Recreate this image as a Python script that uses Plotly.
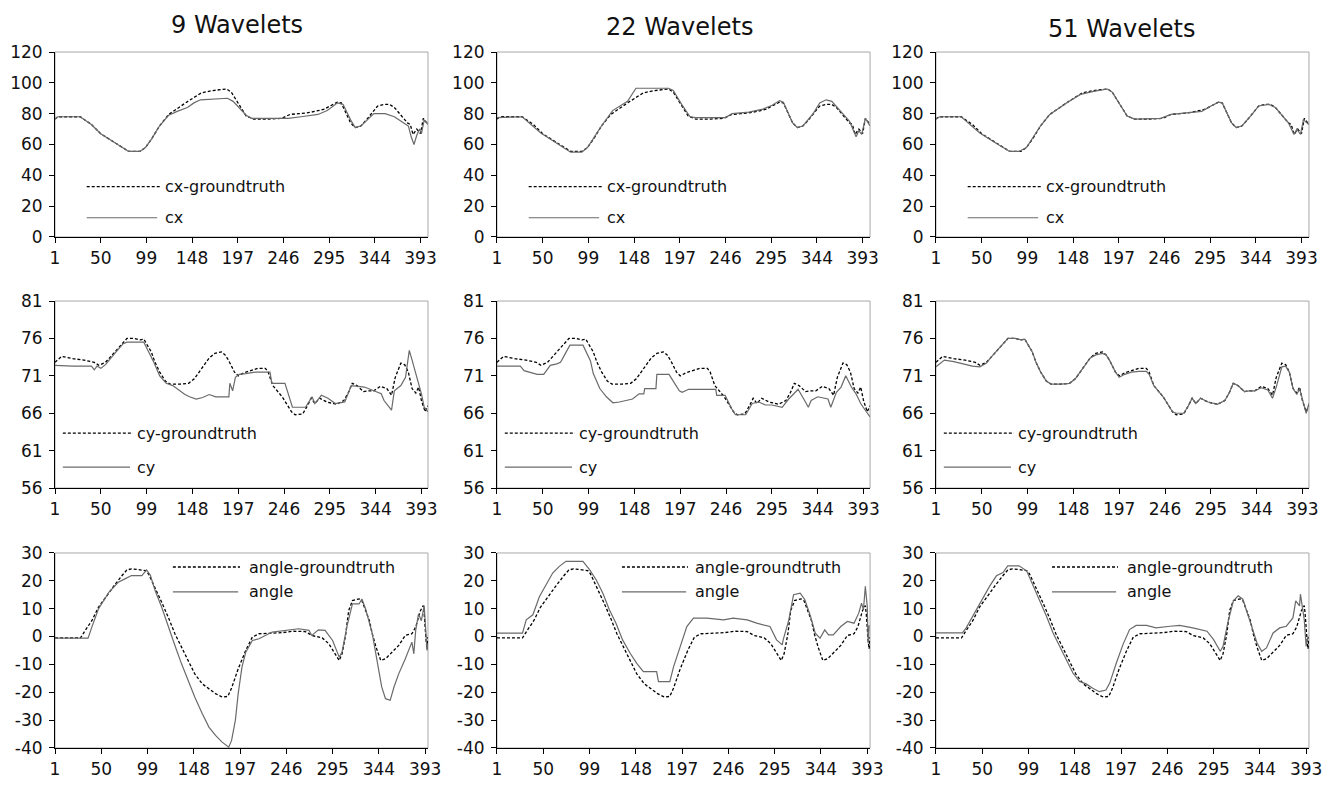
import plotly.graph_objects as go

# ---------------- data ----------------
TITLES = ["9 Wavelets", "22 Wavelets", "51 Wavelets"]
X_TICKS = [1, 50, 99, 148, 197, 246, 295, 344, 393]
CX_TICKS = [0, 20, 40, 60, 80, 100, 120]
CY_TICKS = [56, 61, 66, 71, 76, 81]
ANGLE_TICKS = [-40, -30, -20, -10, 0, 10, 20, 30]

# cx ground truth (shared by the three columns)
CX_GT_X = [1, 4, 28, 40, 50, 60, 70, 80, 92, 98, 105, 113, 123, 132, 141, 150, 158, 170, 178, 185, 190, 199, 206, 214,
           230, 244, 253, 262, 271, 280, 290, 296, 304, 308, 313, 318, 323, 329, 335, 340, 347, 354, 360, 365, 372,
           379, 382, 385, 389, 393, 396, 399, 401]
CX_GT = [76.5, 78, 78, 73, 67, 63, 59, 55.5, 55.5, 58, 64, 72, 79.5, 83.5, 87, 90.5, 93.5, 95, 95.5, 96, 94, 85, 78.5,
         76.5, 76.5, 77, 79.5, 80, 80.5, 81.5, 83, 85, 87.5, 87, 81, 74, 71, 72, 76, 79.5, 85, 86, 86, 84, 79,
         74, 73, 66.5, 70, 67, 77, 75, 73]

CX9_X = [1, 4, 28, 40, 50, 60, 70, 80, 92, 98, 105, 113, 123, 132, 143, 150, 157, 170, 186, 192, 200, 206, 212, 230,
         251, 265, 283, 293, 300, 304, 310, 318, 323, 329, 336, 343, 355, 365, 375, 380, 383, 386, 389, 392, 394,
         397, 401]
CX9 = [76.5, 78, 78, 73, 67, 63, 59, 55.5, 55.5, 58, 64, 72, 79, 81.5, 84, 87, 89, 89.5, 90, 88, 83, 79, 77, 77,
       77, 78, 79.5, 82, 85, 87, 86, 76, 71, 72, 76, 80, 80, 78, 74, 72, 65, 60, 66, 70, 67, 76, 73]

CX22_X = [1, 28, 48, 65, 80, 92, 98, 113, 125, 141, 150, 185, 190, 199, 208, 214, 246, 253, 271, 286, 296, 304, 308,
          318, 323, 329, 340, 347, 354, 360, 367, 379, 386, 389, 392, 396, 399, 401]
CX22 = [77.5, 78, 67.5, 61, 55, 55, 58, 72, 82, 88, 96.5, 96.5, 95, 86, 78, 77.5, 77.5, 80, 81, 83, 85.5, 88.5, 87.5,
        74, 71, 72, 80, 87, 89, 88, 83, 75, 65, 69, 66.5, 77, 74, 72]

CX51_X = [1, 5, 28, 48, 65, 80, 90, 98, 113, 123, 141, 156, 170, 185, 190, 199, 206, 214, 242, 253, 271, 286, 296,
          304, 308, 318, 323, 329, 340, 347, 358, 365, 379, 385, 388, 392, 395, 399, 401]
CX51 = [76.5, 78, 78, 67.5, 61, 55.5, 55.5, 58, 72, 79.5, 87, 92.5, 94.5, 96, 94, 85, 78.5, 76.5, 77, 79.5, 80.5,
        81.5, 85, 87.5, 87, 74, 71, 72, 79.5, 85, 86, 84, 74, 66.5, 70, 66.5, 76, 74, 73]

# cy ground truth (shared)
CY_GT_X = [1, 8, 20, 32, 43, 48, 55, 60, 66, 71, 78, 86, 92, 96, 100, 104, 108, 113, 119, 124, 135, 144, 150, 156,
           161, 166, 172, 179, 183, 187, 193, 197, 203, 210, 218, 226, 229, 234, 240, 244, 249, 254, 258, 266, 271,
           275, 279, 284, 292, 302, 310, 315, 319, 324, 331, 336, 342, 349, 356, 361, 365, 371, 375, 379, 383, 387,
           390, 393, 397, 400]
CY_GT = [72.8, 73.6, 73.3, 73.1, 72.8, 72.4, 72.8, 73.5, 74.3, 75, 76, 76, 75.8, 75.9, 75, 74.2, 72.8, 71.5, 70.3,
         69.9, 69.9, 70, 70.6, 71.7, 72.5, 73.4, 74, 74.2, 73.8, 73, 71.5, 71, 71.4, 71.7, 72, 72, 71.5, 69.7, 68.8,
         68.2, 67.2, 66.2, 65.8, 65.9, 67, 68, 67.3, 68, 67.5, 67.2, 67.7, 68.8, 70, 69.7, 68.9, 69, 69, 69.6, 69.3,
         68.4, 70.8, 72.7, 72.5, 71.5, 69.3, 68.7, 69.5, 67.7, 66.2, 67]

CY9_X = [1, 20, 40, 43, 46, 50, 55, 60, 67, 74, 78, 92, 96, 100, 106, 113, 120, 127, 134, 140, 145, 152, 159, 166,
         173, 187, 188, 191, 194, 198, 205, 215, 231, 233, 247, 255, 269, 276, 279, 286, 293, 301, 311, 318, 332,
         343, 350, 353, 359, 361, 364, 371, 376, 380, 383, 389, 393, 396, 400]
CY9 = [72.4, 72.3, 72.3, 71.8, 72.3, 72, 72.5, 73.3, 74.3, 75.3, 75.5, 75.5, 75.5, 74.5, 73, 71, 70, 69.7, 69, 68.5,
       68.2, 67.9, 68.1, 68.5, 68.2, 68.2, 70, 69, 70.8, 71.2, 71.3, 71.5, 71.5, 70, 70, 66.8, 66.8, 68.2, 67.3, 68.4,
       68, 67.3, 67.5, 69.7, 69.5, 69, 68.6, 67.7, 66.8, 66.4, 69, 69.7, 70.8, 74.4, 73.1, 70.4, 68.6, 66.8, 66.2]

CY22_X = [1, 26, 30, 37, 44, 51, 58, 65, 69, 72, 79, 93, 101, 104, 111, 118, 125, 132, 146, 153, 158, 159, 171, 172,
          185, 188, 196, 199, 206, 235, 236, 245, 252, 256, 267, 274, 281, 288, 295, 306, 313, 320, 323, 330, 334,
          337, 344, 355, 358, 364, 369, 374, 380, 385, 390, 396, 400]
CY22 = [72.3, 72.3, 71.7, 71.5, 71.2, 71.2, 72.4, 72.6, 72.8, 73.5, 75.1, 75.1, 73, 71.3, 69.3, 68.2, 67.4, 67.5,
        67.9, 68.6, 68.6, 69.3, 69.3, 71.2, 71.2, 70.6, 69, 68.8, 69.2, 69.2, 68.4, 68.4, 66.6, 65.8, 65.8, 67.3,
        67.5, 67.1, 67.1, 66.8, 67.9, 68.8, 69.2, 67.7, 66.8, 67.7, 68.2, 67.9, 66.8, 68.8, 69.5, 71, 69.5, 68.6,
        67.3, 66.2, 65.5]

CY51_X = [1, 10, 20, 40, 48, 55, 60, 66, 71, 78, 86, 92, 96, 100, 104, 108, 113, 119, 124, 135, 144, 150, 156, 161,
          166, 172, 179, 183, 187, 193, 197, 203, 210, 218, 226, 229, 234, 240, 244, 249, 254, 258, 266, 271, 275,
          279, 284, 292, 302, 310, 315, 319, 324, 331, 336, 342, 349, 356, 361, 365, 371, 375, 379, 383, 387, 390,
          393, 397, 400]
CY51 = [72.2, 73.1, 72.9, 72.3, 72.2, 72.7, 73.5, 74.3, 75, 76, 76, 75.8, 75.9, 75, 74.2, 72.8, 71.5, 70.3, 69.9,
        69.9, 70, 70.6, 71.7, 72.5, 73.4, 73.8, 74, 73.8, 73, 71.5, 70.8, 71.2, 71.5, 71.6, 71.6, 71.2, 69.7, 68.8,
        68.2, 67.2, 66.2, 66, 66, 67, 68, 67.3, 68, 67.5, 67.2, 67.7, 68.8, 70, 69.7, 68.9, 69, 69, 69.4, 69.1, 68,
        69.5, 72.2, 72.3, 71.5, 69.3, 68.5, 69.3, 67.7, 66, 67.3]

# angle ground truth (shared)
ANGLE_GT_X = [1, 28, 33, 40, 47, 58, 65, 72, 77, 82, 90, 97, 100, 107, 114, 121, 128, 135, 142, 149, 157, 164, 171,
              178, 184, 188, 195, 203, 210, 217, 231, 242, 252, 266, 273, 284, 291, 298, 302, 305, 309, 312, 316,
              323, 326, 334, 337, 341, 346, 351, 358, 365, 372, 379, 383, 386, 388, 391, 392, 394, 395, 396]
ANGLE_GT = [-0.5, -0.5, 2.2, 5.7, 10.5, 15.9, 18.9, 21.9, 23.9, 24.3, 24, 23.7, 22.5, 17.7, 12.3, 6.9, 1, -3.8, -8.6,
            -13.4, -17, -18.7, -20.5, -21.7, -21.5, -18.5, -11.6, -5, -0.2, 1, 1.2, 1.4, 1.9, 1.8, 0.4, -0.5, -2.6,
            -6.2, -8.6, -6.2, 1, 9.3, 12.9, 13.5, 12.9, 5.7, 1, -3.8, -8.6, -8, -5.6, -3.2, 0.4, 1, 3.4, 6.9, 9.3,
            11.1, 8.1, -1.4, -4.4, -0.2]

ANGLE9_X = [1, 36, 40, 47, 58, 68, 75, 82, 93, 98, 102, 107, 114, 121, 128, 135, 142, 149, 157, 164, 171, 178, 185,
            188, 192, 195, 199, 203, 210, 217, 231, 245, 259, 270, 273, 280, 287, 295, 302, 305, 310, 316, 323, 326,
            330, 337, 342, 347, 351, 356, 360, 365, 372, 379, 381, 383, 386, 389, 392, 394, 395, 396]
ANGLE9 = [-0.6, -0.6, 3.4, 9.9, 15.9, 19.5, 20.7, 21.9, 21.9, 23.9, 22, 16.5, 10.5, 3.4, -3.2, -9.8, -15.8, -21.7,
          -27.7, -32.5, -35.5, -37.9, -39.7, -37.3, -30.1, -20.5, -11, -5.6, -1.4, -0.8, 1.6, 2.2, 2.8, 2.2, 0.4, 2.4,
          2.2, -1.4, -7.4, -5.6, 3.4, 11.7, 11.7, 13.5, 9.9, 1, -8.6, -18.1, -22.3, -22.9, -18.1, -13.4, -8, -2, -6.2,
          2.2, 8.1, 5.7, 11.1, 2.2, -5, -2.6]

ANGLE22_X = [1, 28, 32, 39, 46, 53, 60, 67, 74, 92, 99, 106, 113, 120, 127, 134, 142, 149, 156, 170, 172, 184, 188,
             195, 202, 209, 223, 241, 251, 266, 276, 290, 297, 303, 304, 310, 315, 322, 327, 333, 338, 343, 348, 352,
             357, 365, 372, 379, 384, 387, 389, 391, 393, 394, 395]
ANGLE22 = [1.2, 1.2, 6, 7.8, 14.4, 18.6, 22.8, 25.2, 27, 27, 24, 20.4, 15.6, 9.6, 4.8, -1.2, -6, -9.6, -12.6, -12.6,
           -16.2, -16.2, -10.8, -3.6, 3.6, 6.6, 6.6, 6, 6.6, 6, 4.8, 3.6, -1.2, -3, -1.2, 6, 15, 15.6, 13.2, 7.2, 1.2,
           -0.6, 2.4, 0.6, 0.6, 3.6, 5.4, 4.8, 8.4, 12, 9.6, 18, 10.8, -2.4, 4]

ANGLE51_X = [1, 29, 33, 40, 47, 58, 65, 72, 77, 89, 97, 104, 111, 118, 125, 132, 139, 146, 153, 160, 167, 174, 181,
             185, 192, 199, 206, 213, 224, 234, 249, 259, 273, 288, 295, 302, 305, 310, 316, 321, 326, 333, 341, 346,
             351, 358, 365, 372, 379, 382, 386, 387, 389, 391, 393, 395]
ANGLE51 = [1.3, 1.3, 3.1, 7.3, 11.6, 18.2, 21.8, 23, 25.4, 25.4, 23.6, 18.2, 12.8, 7.3, 1.3, -3.5, -8.3, -13.1,
           -16.1, -17, -18.6, -19.8, -19.2, -16.7, -9.5, -2.9, 2.5, 4, 4, 3.1, 3.7, 4, 3.1, 1.9, -1.1, -5.3, -3.5, 4.9,
           12.8, 14.6, 13.4, 6.1, -2.3, -5.3, -4.1, 1.3, 3.1, 3.7, 6.7, 12.8, 11, 15.2, 9.8, 6.1, -3.5, 0.1]

ROWS = [
    dict(gt=(CX_GT_X, CX_GT), est=[(CX9_X, CX9), (CX22_X, CX22), (CX51_X, CX51)],
         gt_name="cx-groundtruth", est_name="cx", yticks=CX_TICKS),
    dict(gt=(CY_GT_X, CY_GT), est=[(CY9_X, CY9), (CY22_X, CY22), (CY51_X, CY51)],
         gt_name="cy-groundtruth", est_name="cy", yticks=CY_TICKS),
    dict(gt=(ANGLE_GT_X, ANGLE_GT), est=[(ANGLE9_X, ANGLE9), (ANGLE22_X, ANGLE22), (ANGLE51_X, ANGLE51)],
         gt_name="angle-groundtruth", est_name="angle", yticks=ANGLE_TICKS),
]

# ---------------- layout ----------------
FONT = "DejaVu Sans"
COL_DOM = [[0.0413, 0.3213], [0.3731, 0.6532], [0.7027, 0.9827]]
ROW_DOM = [[0.7008, 0.9343], [0.3838, 0.6199], [0.0556, 0.3018]]
ROW_XMAX = [401, 400, 396]
# legend placement inside each panel (fractions of the plot area)
LEG = {
    0: [dict(x0=0.085, x1=0.282, xs=0.274, xt=0.29, yd=0.272, ys=0.104)] * 3,
    1: [dict(x0=0.021, x1=0.209, xs=0.201, xt=0.214, yd=0.294, ys=0.112)] * 3,
    2: [dict(x0=0.316, x1=0.496, xs=0.491, xt=0.515, yd=0.928, ys=0.80),
        dict(x0=0.335, x1=0.512, xs=0.507, xt=0.525, yd=0.928, ys=0.80),
        dict(x0=0.311, x1=0.488, xs=0.483, xt=0.507, yd=0.928, ys=0.80)],
}

GT_COLOR = "#000000"
EST_COLOR = "#6a6a6a"

fig = go.Figure()
shapes = []
annotations = []
layout = dict(
    width=1332, height=792,
    margin=dict(l=0, r=0, t=0, b=0, autoexpand=False),
    paper_bgcolor="white", plot_bgcolor="white",
    showlegend=False,
    font=dict(family=FONT, size=16, color="#111111"),
)

for r, row in enumerate(ROWS):
    for c in range(3):
        k = r * 3 + c + 1
        xn = "x" if k == 1 else f"x{k}"
        yn = "y" if k == 1 else f"y{k}"
        xk = "xaxis" if k == 1 else f"xaxis{k}"
        yk = "yaxis" if k == 1 else f"yaxis{k}"
        gx, gy = row["gt"]
        ex, ey = row["est"][c]
        fig.add_trace(go.Scatter(x=gx, y=gy, mode="lines", xaxis=xn, yaxis=yn, name=row["gt_name"],
                                 line=dict(color=GT_COLOR, width=1.3, dash="3px,2px")))
        fig.add_trace(go.Scatter(x=ex, y=ey, mode="lines", xaxis=xn, yaxis=yn, name=row["est_name"],
                                 line=dict(color=EST_COLOR, width=1.2)))
        yt = row["yticks"]
        layout[xk] = dict(domain=COL_DOM[c], anchor=yn, range=[1, ROW_XMAX[r]], automargin=False,
                          tickmode="array", tickvals=X_TICKS, ticktext=[str(v) for v in X_TICKS],
                          showline=True, linecolor="black", linewidth=1, ticks="outside", ticklen=5,
                          tickcolor="black", showgrid=False, zeroline=False,
                          tickfont=dict(family=FONT, size=17, color="#111111"), ticklabelstandoff=1)
        layout[yk] = dict(domain=ROW_DOM[r], anchor=xn, range=[yt[0], yt[-1]], automargin=False,
                          tickmode="array", tickvals=yt, ticktext=[str(v) for v in yt],
                          showline=True, linecolor="black", linewidth=1, ticks="outside", ticklen=5,
                          tickcolor="black", showgrid=False, zeroline=False,
                          tickfont=dict(family=FONT, size=17, color="#111111"), ticklabelstandoff=3)
        # grey frame
        shapes.append(dict(type="rect", xref=f"{xn} domain", yref=f"{yn} domain", x0=0, x1=1, y0=0, y1=1,
                           line=dict(color="#a8a8a8", width=1), layer="below"))
        # in-plot legend
        L = LEG[r][c]
        shapes.append(dict(type="line", xref=f"{xn} domain", yref=f"{yn} domain", x0=L["x0"], x1=L["x1"],
                           y0=L["yd"], y1=L["yd"], line=dict(color=GT_COLOR, width=1.3, dash="3px,2px")))
        shapes.append(dict(type="line", xref=f"{xn} domain", yref=f"{yn} domain", x0=L["x0"], x1=L["xs"],
                           y0=L["ys"], y1=L["ys"], line=dict(color=EST_COLOR, width=1.2)))
        annotations.append(dict(text=row["gt_name"], xref=f"{xn} domain", yref=f"{yn} domain", x=L["xt"],
                                y=L["yd"], xanchor="left", yanchor="middle", showarrow=False,
                                font=dict(family=FONT, size=16, color="#111111")))
        annotations.append(dict(text=row["est_name"], xref=f"{xn} domain", yref=f"{yn} domain", x=L["xt"],
                                y=L["ys"], xanchor="left", yanchor="middle", showarrow=False,
                                font=dict(family=FONT, size=16, color="#111111")))

TITLE_X = [237 / 1332, 679 / 1332, 1121 / 1332]
TITLE_Y = [1 - 25 / 792, 1 - 27 / 792, 1 - 29 / 792]
for c in range(3):
    annotations.append(dict(text=TITLES[c], xref="paper", yref="paper", x=TITLE_X[c], y=TITLE_Y[c],
                            xanchor="center", yanchor="middle", showarrow=False,
                            font=dict(family=FONT, size=24, color="#111111")))

layout["shapes"] = shapes
layout["annotations"] = annotations
fig.update_layout(**layout)
fig.write_html("out.html", config={"displayModeBar": False},
               post_script="document.body.style.margin='0px';")
